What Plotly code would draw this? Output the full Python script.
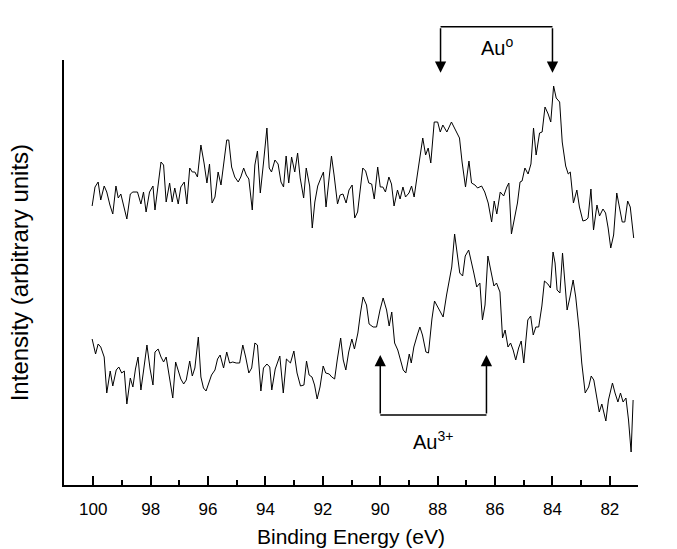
import plotly.graph_objects as go

# Binding energy (eV) and intensity (arbitrary units)
energy_b = [100.04, 99.94, 99.83, 99.74, 99.62, 99.53, 99.42, 99.32, 99.21, 99.13,
            99.04, 98.94, 98.83, 98.71, 98.62, 98.46, 98.34, 98.25, 98.16, 98.04,
            97.92, 97.85, 97.74, 97.64, 97.55, 97.46, 97.34, 97.25, 97.16, 97.04,
            96.95, 96.83, 96.74, 96.64, 96.55, 96.46, 96.37, 96.25, 96.14, 96.04,
            95.95, 95.86, 95.76, 95.65, 95.55, 95.46, 95.35, 95.28, 95.18, 95.07,
            94.95, 94.86, 94.76, 94.67, 94.58, 94.46, 94.37, 94.28, 94.18, 94.07,
            93.95, 93.87, 93.79, 93.67, 93.56, 93.46, 93.37, 93.28, 93.19, 93.09,
            92.98, 92.88, 92.79, 92.67, 92.58, 92.46, 92.37, 92.28, 92.18, 92.07,
            91.98, 91.89, 91.79, 91.70, 91.61, 91.49, 91.40, 91.30, 91.19, 91.09,
            90.98, 90.89, 90.79, 90.70, 90.61, 90.51, 90.40, 90.30, 90.21, 90.09,
            90.00, 89.91, 89.82, 89.70, 89.61, 89.52, 89.40, 89.31, 89.21, 89.12,
            89.00, 88.91, 88.82, 88.72, 88.63, 88.52, 88.42, 88.33, 88.24, 88.12,
            88.00, 87.91, 87.82, 87.68, 87.52, 87.38, 87.24, 87.15, 87.03, 86.91,
            86.82, 86.70, 86.61, 86.47, 86.36, 86.24, 86.12, 86.03, 85.94, 85.82,
            85.70, 85.59, 85.52, 85.43, 85.31, 85.22, 85.13, 85.06, 84.96, 84.85,
            84.75, 84.66, 84.57, 84.45, 84.36, 84.26, 84.15, 84.06, 83.96, 83.87,
            83.75, 83.66, 83.54, 83.45, 83.38, 83.27, 83.15, 83.06, 82.94, 82.83,
            82.76, 82.66, 82.57, 82.45, 82.36, 82.24, 82.15, 82.06, 81.97, 81.87,
            81.76, 81.66, 81.57, 81.48, 81.38, 81.29, 81.17]
intensity_b = [294, 313, 318, 300, 314, 308, 295, 286, 314, 302,
               306, 293, 281, 306, 308, 308, 296, 308, 288, 308,
               314, 290, 314, 338, 335, 298, 317, 298, 312, 296,
               313, 318, 296, 332, 328, 328, 323, 355, 337, 317,
               336, 297, 303, 328, 315, 335, 360, 360, 333, 323,
               318, 323, 332, 325, 321, 290, 335, 349, 307, 337,
               372, 332, 328, 340, 336, 318, 313, 344, 317, 343,
               328, 347, 322, 302, 332, 314, 272, 298, 314, 322,
               328, 293, 317, 344, 325, 296, 305, 306, 297, 310,
               315, 282, 288, 308, 332, 329, 317, 316, 301, 333,
               313, 313, 308, 323, 316, 294, 310, 301, 313, 303,
               307, 314, 303, 323, 340, 362, 345, 352, 337, 378,
               378, 368, 375, 368, 378, 370, 362, 338, 313, 339,
               317, 315, 312, 314, 308, 297, 278, 299, 286, 308,
               304, 313, 317, 266, 282, 297, 318, 319, 332, 326,
               336, 372, 345, 367, 368, 393, 386, 378, 414, 402,
               398, 358, 334, 326, 328, 297, 310, 293, 279, 280,
               282, 311, 270, 295, 284, 291, 287, 272, 252, 265,
               307, 292, 278, 278, 299, 293, 262]

energy_a = [100.04, 99.92, 99.83, 99.74, 99.62, 99.53, 99.41, 99.32, 99.20, 99.11,
            99.01, 98.92, 98.83, 98.71, 98.62, 98.53, 98.44, 98.34, 98.25, 98.13,
            98.02, 97.92, 97.85, 97.74, 97.64, 97.55, 97.46, 97.34, 97.23, 97.13,
            97.04, 96.95, 96.85, 96.76, 96.64, 96.55, 96.46, 96.34, 96.25, 96.16,
            96.07, 95.97, 95.88, 95.76, 95.67, 95.58, 95.46, 95.35, 95.25, 95.14,
            95.02, 94.90, 94.79, 94.69, 94.58, 94.48, 94.37, 94.28, 94.16, 94.07,
            93.95, 93.85, 93.78, 93.66, 93.50, 93.38, 93.27, 93.13, 93.01, 92.90,
            92.78, 92.66, 92.57, 92.48, 92.38, 92.29, 92.20, 92.10, 91.99, 91.90,
            91.78, 91.69, 91.59, 91.50, 91.38, 91.29, 91.20, 91.10, 90.99, 90.90,
            90.78, 90.69, 90.60, 90.48, 90.39, 90.25, 90.13, 90.01, 89.90, 89.78,
            89.69, 89.60, 89.50, 89.39, 89.29, 89.20, 89.11, 88.99, 88.92, 88.83,
            88.71, 88.62, 88.53, 88.41, 88.32, 88.20, 88.11, 87.99, 87.90, 87.81,
            87.69, 87.60, 87.51, 87.41, 87.32, 87.23, 87.13, 87.04, 86.92, 86.83,
            86.74, 86.64, 86.53, 86.44, 86.35, 86.25, 86.16, 86.04, 85.95, 85.83,
            85.74, 85.65, 85.55, 85.46, 85.37, 85.28, 85.18, 85.09, 85.00, 84.86,
            84.76, 84.67, 84.58, 84.48, 84.37, 84.28, 84.16, 84.07, 83.98, 83.91,
            83.84, 83.74, 83.65, 83.56, 83.49, 83.39, 83.28, 83.19, 83.07, 82.98,
            82.86, 82.74, 82.65, 82.56, 82.46, 82.37, 82.28, 82.14, 82.05, 81.91,
            81.82, 81.72, 81.63, 81.54, 81.44, 81.35, 81.26, 81.19]
intensity_a = [161, 146, 156, 153, 143, 107, 129, 114, 130, 133,
               127, 129, 96, 122, 113, 131, 143, 110, 129, 155,
               131, 115, 148, 151, 143, 138, 143, 122, 102, 138,
               128, 121, 116, 120, 139, 124, 132, 163, 123, 112,
               109, 117, 125, 130, 141, 145, 132, 148, 137, 138,
               137, 137, 155, 143, 127, 132, 157, 155, 109, 132,
               136, 133, 110, 131, 144, 107, 141, 137, 149, 127,
               114, 115, 139, 125, 123, 115, 101, 113, 134, 127,
               126, 123, 121, 140, 162, 140, 130, 148, 161, 151,
               167, 187, 203, 195, 176, 173, 173, 190, 202, 190,
               174, 188, 157, 150, 140, 130, 127, 146, 137, 153,
               165, 173, 165, 148, 147, 181, 199, 193, 187, 183,
               205, 220, 233, 266, 247, 227, 224, 244, 250, 240,
               227, 213, 217, 180, 195, 244, 230, 214, 217, 208,
               162, 170, 153, 157, 150, 140, 152, 159, 137, 180,
               184, 165, 173, 173, 194, 219, 216, 212, 248, 237,
               210, 207, 247, 215, 190, 203, 220, 203, 170, 137,
               107, 113, 124, 120, 103, 88, 96, 79, 100, 117,
               107, 98, 107, 98, 102, 80, 48, 100]

x_ticks = [100, 98, 96, 94, 92, 90, 88, 86, 84, 82]
au0_peaks = [87.9, 84.0]
au3_peaks = [90.0, 86.3]
curve_labels = ["b", "a"]
curve_label_levels = [276, 72]

FONT = "Liberation Sans, Arial, sans-serif"
black = "black"

fig = go.Figure()
fig.add_trace(go.Scatter(x=energy_b, y=intensity_b, mode="lines",
                         line=dict(color=black, width=1), showlegend=False))
fig.add_trace(go.Scatter(x=energy_a, y=intensity_a, mode="lines",
                         line=dict(color=black, width=1), showlegend=False))

annotations = []
shapes = []

# Au0 bracket (above plot)
top_y = 1.078
tip_y = 0.970
shapes.append(dict(type="line", xref="x", yref="paper", x0=au0_peaks[0], x1=au0_peaks[1],
                   y0=top_y, y1=top_y, line=dict(color=black, width=1.5)))
for p in au0_peaks:
    annotations.append(dict(x=p, y=tip_y, xref="x", yref="paper", text="", showarrow=True,
                            ax=0, ay=-46, arrowhead=2, arrowsize=1.5, arrowwidth=1.5,
                            arrowcolor=black, standoff=0))
annotations.append(dict(x=sum(au0_peaks) / 2, y=1.031, xref="x",
                        yref="paper", yanchor="middle",
                        text="Au<sup>o</sup>", showarrow=False,
                        font=dict(family=FONT, size=20, color=black)))

# Au3+ bracket (inside plot)
base_level = 85
tip_level = 145
shapes.append(dict(type="line", xref="x", yref="y", x0=au3_peaks[0], x1=au3_peaks[1],
                   y0=base_level, y1=base_level, line=dict(color=black, width=1.5)))
for p in au3_peaks:
    annotations.append(dict(x=p, y=tip_level, xref="x", yref="y", text="", showarrow=True,
                            ax=p, ay=base_level, axref="x", ayref="y",
                            arrowhead=2, arrowsize=1.5, arrowwidth=1.5,
                            arrowcolor=black, standoff=0))
annotations.append(dict(x=sum(au3_peaks) / 2, y=60, xref="x", yref="y",
                        text="Au<sup>3+</sup>", showarrow=False,
                        font=dict(family=FONT, size=20, color=black)))

for lab, lev in zip(curve_labels, curve_label_levels):
    annotations.append(dict(x=80.0, y=lev, xref="x", yref="y", text=lab, showarrow=False,
                            font=dict(family=FONT, size=20, color=black)))

# Axis titles
annotations.append(dict(x=-0.077, y=0.5, xref="paper", yref="paper",
                        text="Intensity (arbitrary units)", textangle=-90, showarrow=False,
                        xanchor="center", yanchor="middle",
                        font=dict(family=FONT, size=24, color=black)))
annotations.append(dict(x=0.5, y=-0.12, xref="paper", yref="paper",
                        text="Binding Energy (eV)", showarrow=False,
                        xanchor="center", yanchor="middle",
                        font=dict(family=FONT, size=21, color=black)))

fig.update_layout(
    width=677, height=549,
    margin=dict(l=64, r=39, t=60, b=64),
    paper_bgcolor="white", plot_bgcolor="white",
    font=dict(family=FONT, color=black),
    shapes=shapes, annotations=annotations,
    xaxis=dict(range=[101.02, 81.02], tickmode="array", tickvals=x_ticks,
               ticks="inside", ticklen=9, tickwidth=1.5, tickcolor=black,
               ticklabelstandoff=8,
               showline=True, linecolor=black, linewidth=1.8, showgrid=False, zeroline=False,
               tickfont=dict(family=FONT, size=17, color=black),
               minor=dict(dtick=1, tick0=0, ticks="inside", ticklen=5, tickwidth=1.5,
                          tickcolor=black, showgrid=False)),
    yaxis=dict(range=[15, 440], showline=True, linecolor=black, linewidth=1.8,
               showticklabels=False, ticks="", showgrid=False, zeroline=False),
)

fig.write_html("out.html")
